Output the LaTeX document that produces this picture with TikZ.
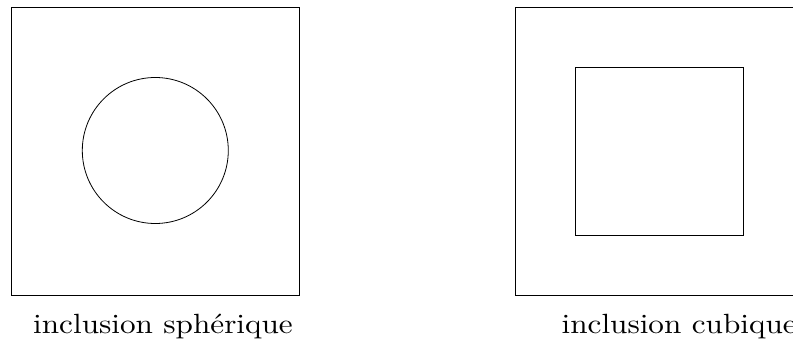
\documentclass[tikz,border=0pt]{standalone}
\begin{document}
\begin{tikzpicture}[x=1pt,y=-1pt,
  shapeline/.style={draw=black,line width=0.8pt},
  caption/.style={anchor=base west,inner sep=0pt,font=\fontsize{10}{12}\selectfont,xscale=3.12,yscale=2.78}]
\useasboundingbox (0,0) rectangle (793,347);
% left panel
\draw[shapeline] (11,7) rectangle (299,295);
\draw[shapeline] (155.3,150.5) circle[radius=73];
\node[caption] (lsph) at (32.6,334) {inclusion sphérique};
% right panel
\draw[shapeline] (515,7) rectangle (803,295);
\draw[shapeline] (575,67) rectangle (743,235);
\node[caption] (lcub) at (561,334) {inclusion cubique};
\end{tikzpicture}
\end{document}
